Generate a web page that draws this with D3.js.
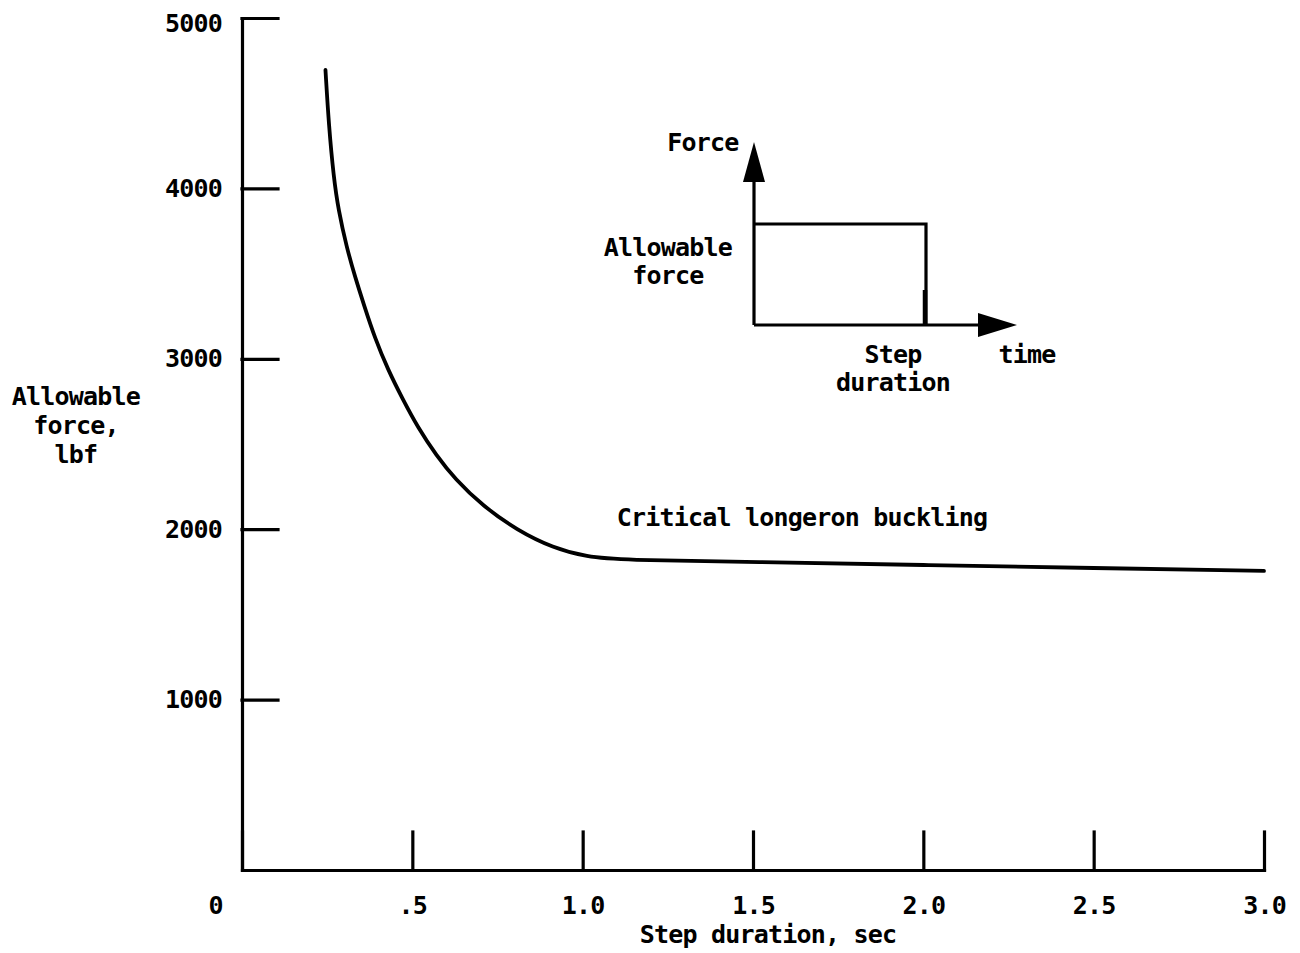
<!DOCTYPE html>
<html>
<head>
<meta charset="utf-8">
<script src="https://cdn.jsdelivr.net/npm/d3@7"></script>
<style>
  html, body { margin: 0; padding: 0; background: #fff; }
  svg { display: block; }
  text { font-family: "DejaVu Sans Mono", "Liberation Mono", monospace; font-size: 25px; font-weight: bold; letter-spacing: -0.8px; fill: #000; }
</style>
</head>
<body>
<svg id="chart" width="1300" height="953"></svg>
<script>
// Allowable step force versus step duration
const durationSec  = [0.245, 0.255, 0.269, 0.283, 0.307, 0.332, 0.358, 0.390, 0.429, 0.470, 0.517, 0.570, 0.625, 0.707, 0.807, 0.913, 1.013, 1.110, 1.5, 2.0, 2.5, 3.0];
const allowableLbf = [4695, 4366, 4067, 3873, 3656, 3480, 3316, 3122, 2934, 2770, 2594, 2435, 2295, 2136, 1995, 1890, 1837, 1819, 1808, 1790, 1772, 1755];

const xTicks = [0, 0.5, 1.0, 1.5, 2.0, 2.5, 3.0];
const xTickLabels = ["0", ".5", "1.0", "1.5", "2.0", "2.5", "3.0"];
const yTicks = [1000, 2000, 3000, 4000, 5000];
const yTickLabels = ["1000", "2000", "3000", "4000", "5000"];

const curveLabel = "Critical longeron buckling";
const xTitle = "Step duration, sec";
const yTitleLines = ["Allowable", "force,", "lbf"];

const svg = d3.select("#chart");

const x = d3.scaleLinear().domain([0, 3]).range([242, 1264]);
const y = d3.scaleLinear().domain([0, 5000]).range([870, 18]);

// X axis: ticks point up into the plot
const xAxis = d3.axisBottom(x)
  .tickValues(xTicks)
  .tickFormat((d, i) => xTickLabels[i])
  .tickSize(-38)
  .tickSizeOuter(0)
  .tickPadding(26);

const gx = svg.append("g").attr("transform", `translate(0,${y(0)})`).call(xAxis);
gx.selectAll("text").attr("font-family", null).attr("font-size", null);
gx.selectAll(".tick text").filter(d => d === 0).attr("dx", -27);

// Y axis: ticks point right into the plot
const yAxis = d3.axisLeft(y)
  .tickValues(yTicks)
  .tickFormat((d, i) => yTickLabels[i])
  .tickSize(-36)
  .tickSizeOuter(0)
  .tickPadding(20);

const gy = svg.append("g").attr("transform", `translate(${x(0)},0)`).call(yAxis);
gy.selectAll("text").attr("font-family", null).attr("font-size", null);
gy.selectAll(".tick text").filter(d => d === 5000).attr("y", 5);

svg.selectAll(".domain, .tick line")
  .attr("stroke", "#000")
  .attr("stroke-width", 3.2)
  .attr("stroke-linecap", "square");

// Allowable force curve, B-spline through the read points
const line = d3.line()
  .x((d, i) => x(durationSec[i]))
  .y((d, i) => y(allowableLbf[i]))
  .curve(d3.curveBasis);

svg.append("path")
  .datum(allowableLbf)
  .attr("d", line)
  .attr("fill", "none")
  .attr("stroke", "#000")
  .attr("stroke-width", 3.8)
  .attr("stroke-linecap", "round");

svg.append("text")
  .attr("x", x(1.1))
  .attr("y", y(2020))
  .text(curveLabel);

// Axis titles
svg.append("text")
  .attr("x", 768)
  .attr("y", 943)
  .attr("text-anchor", "middle")
  .text(xTitle);

svg.append("text")
  .attr("text-anchor", "middle")
  .selectAll("tspan")
  .data(yTitleLines)
  .join("tspan")
  .attr("x", 76)
  .attr("y", (d, i) => 405 + i * 29)
  .text(d => d);

// Inset schematic of a force step
const inset = { x0: 754, y0: 325, xEnd: 1017, yEnd: 142, stepW: 172, stepH: 101 };
const ink = svg.append("g").attr("stroke", "#000").attr("fill", "none").attr("stroke-width", 3.2);

ink.append("line").attr("x1", inset.x0).attr("y1", inset.y0).attr("x2", inset.x0).attr("y2", inset.yEnd + 30);
ink.append("line").attr("x1", inset.x0).attr("y1", inset.y0).attr("x2", inset.xEnd - 30).attr("y2", inset.y0);
ink.append("polyline")
  .attr("points", [[inset.x0, inset.y0 - inset.stepH], [inset.x0 + inset.stepW, inset.y0 - inset.stepH], [inset.x0 + inset.stepW, inset.y0]].join(" "));
ink.append("line")
  .attr("x1", inset.x0 + inset.stepW - 1).attr("y1", inset.y0 - 35)
  .attr("x2", inset.x0 + inset.stepW - 1).attr("y2", inset.y0)
  .attr("stroke-width", 4.5);

svg.append("path")
  .attr("d", `M${inset.x0},${inset.yEnd} L${inset.x0 - 11},${inset.yEnd + 40} L${inset.x0 + 11},${inset.yEnd + 40} Z`)
  .attr("fill", "#000");
svg.append("path")
  .attr("d", `M${inset.xEnd},${inset.y0} L${inset.xEnd - 39},${inset.y0 - 12} L${inset.xEnd - 39},${inset.y0 + 12} Z`)
  .attr("fill", "#000");

const insetLabels = [
  { t: "Force", x: 703, y: 151 },
  { t: "Allowable", x: 668, y: 256 },
  { t: "force", x: 668, y: 284 },
  { t: "Step", x: 893, y: 363 },
  { t: "duration", x: 893, y: 391 },
  { t: "time", x: 1027, y: 363 }
];
svg.append("g").selectAll("text")
  .data(insetLabels)
  .join("text")
  .attr("x", d => d.x)
  .attr("y", d => d.y)
  .attr("text-anchor", "middle")
  .text(d => d.t);
</script>
</body>
</html>
